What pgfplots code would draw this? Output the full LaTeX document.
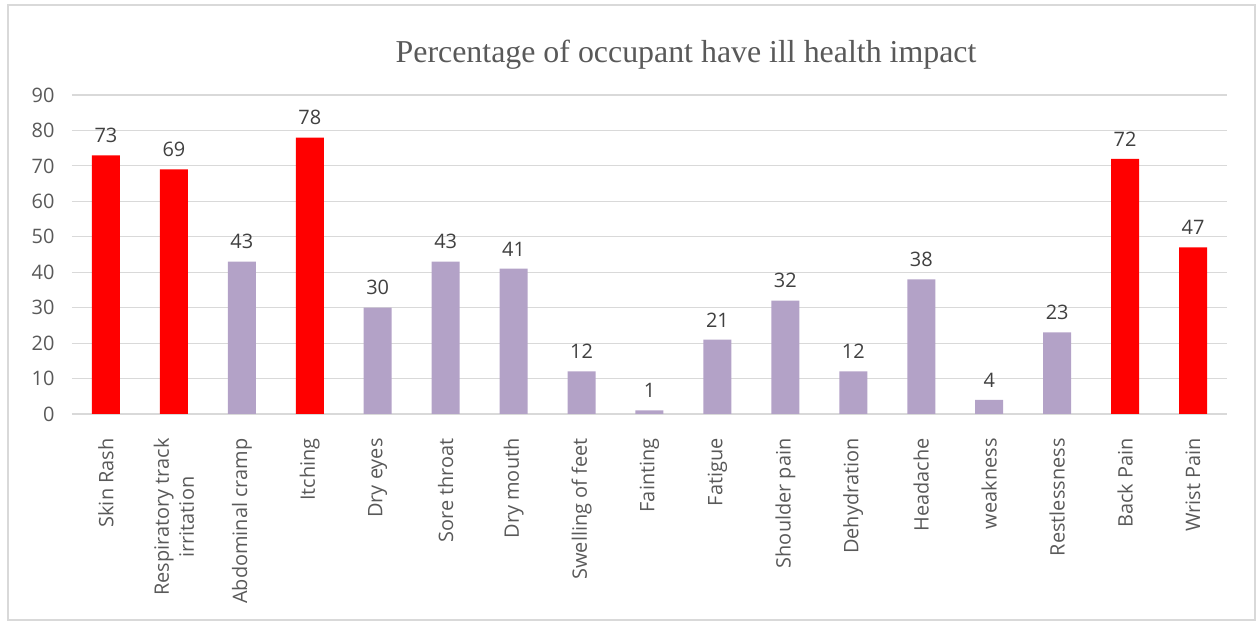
\documentclass[border=0pt]{standalone}
\usepackage{fontspec}
\setmainfont{Open Sans}
\newfontfamily\titlefont{Liberation Serif}
\usepackage{pgfplots}
\pgfplotsset{compat=1.18}
\definecolor{barred}{HTML}{FF0000}
\definecolor{barlav}{HTML}{B3A2C7}
\definecolor{gridc}{HTML}{D9D9D9}
\definecolor{txt}{HTML}{595959}
\definecolor{lbl}{HTML}{404040}
\begin{document}
\begin{tikzpicture}[x=1bp,y=1bp]
\useasboundingbox (-72,-210) rectangle (1187,414);
\draw[gridc, line width=1.2bp] (-64,-206) rectangle (1183,409);
\begin{axis}[
  at={(0,0)}, anchor=south west,
  scale only axis,
  width=1155bp, height=319bp,
  xmin=-0.5, xmax=16.5,
  ymin=0, ymax=90,
  ytick={0,10,...,90},
  xtick={0,...,16},
  xticklabels={Skin Rash,{Respiratory track\\irritation},Abdominal cramp,Itching,Dry eyes,Sore throat,Dry mouth,Swelling of feet,Fainting,Fatigue,Shoulder pain,Dehydration,Headache,weakness,Restlessness,Back Pain,Wrist Pain},
  xticklabel style={rotate=90, anchor=east, align=center, font=\fontsize{20}{25}\selectfont, text=txt, inner sep=0pt},
  xtick style={draw=none},
  ytick style={draw=none},
  yticklabel style={font=\fontsize{20}{25}\selectfont, text=txt, xshift=-14bp},
  /pgf/number format/assume math mode=true,
  axis line style={draw=none},
  ymajorgrids,
  grid style={gridc, line width=1.2bp},
  ybar, bar width=28bp, bar shift=0pt,
  nodes near coords,
  every node near coord/.append style={font=\fontsize{20}{25}\selectfont, text=lbl, yshift=9bp},
  xticklabel shift=20bp,
  clip=false,
]
\addplot[fill=barred, draw=none] coordinates {(0,73) (1,69) (3,78) (15,72) (16,47)};
\addplot[fill=barlav, draw=none] coordinates {(2,43) (4,30) (5,43) (6,41) (7,12) (8,1) (9,21) (10,32) (11,12) (12,38) (13,4) (14,23)};
\end{axis}
\node[font=\titlefont\fontsize{32}{38}\selectfont, text=txt] at (614,359) {Percentage of occupant have ill health impact};
\end{tikzpicture}
\end{document}
